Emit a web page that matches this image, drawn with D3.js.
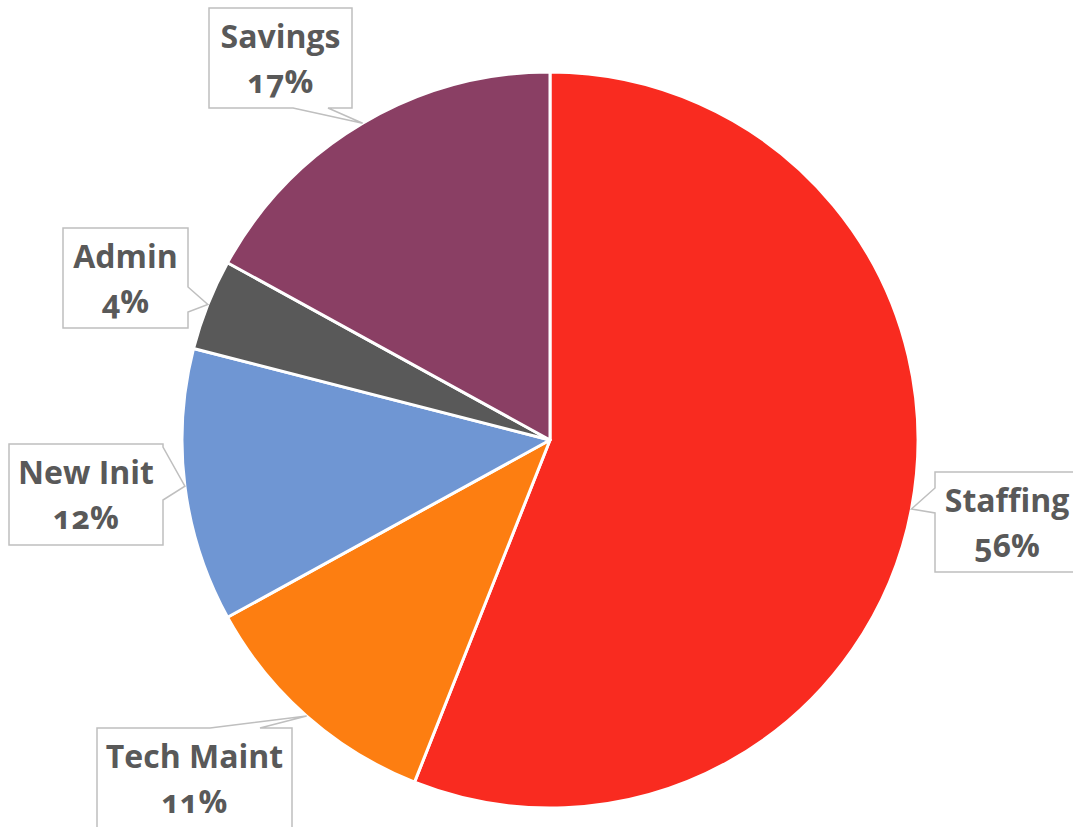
<!DOCTYPE html>
<html>
<head>
<meta charset="utf-8">
<script src="https://cdn.jsdelivr.net/npm/d3@7"></script>
<style>
  html, body { margin: 0; padding: 0; background: #fff; }
  svg { display: block; }
  .lbl { font-family: "Open Sans", Lato, sans-serif; font-weight: 700; fill: #595959; font-variant-numeric: oldstyle-nums; font-variant-ligatures: none; }
</style>
</head>
<body>
<svg id="chart" width="1073" height="827"></svg>
<script>
// Budget share by category, in percent
const categories = ["Staffing", "Tech Maint", "New Init", "Admin", "Savings"];
const shares = [56, 11, 12, 4, 17];
const colors = ["#F92B20", "#FD7E11", "#6F96D3", "#595959", "#8A3F64"];

// Callout boxes: position, size and which edge carries the pointer
const callouts = {
  "Staffing":   { x: 935, y: 472, w: 150, h: 100, side: "left",   a: 16, b: 41 },
  "Tech Maint": { x: 97,  y: 728, w: 195, h: 104, side: "top",    a: 113, b: 163 },
  "New Init":   { x: 9,   y: 444, w: 154, h: 101, side: "right",  a: 3,  b: 56 },
  "Admin":      { x: 63,  y: 228, w: 125, h: 100, side: "right",  a: 59, b: 84 },
  "Savings":    { x: 209, y: 8,   w: 143, h: 100, side: "bottom", a: 84, b: 119 }
};

const svg = d3.select("#chart");
const cx = 550, cy = 440, radius = 368;

const pie = d3.pie().sort(null).value(d => d.value);
const arcs = pie(categories.map((c, i) => ({ name: c, value: shares[i], color: colors[i] })));
const arc = d3.arc().innerRadius(0).outerRadius(radius);

const g = svg.append("g").attr("transform", `translate(${cx},${cy})`);
g.selectAll("path.slice")
  .data(arcs)
  .join("path")
  .attr("class", "slice")
  .attr("d", arc)
  .attr("fill", d => d.data.color)
  .attr("stroke", "#fff")
  .attr("stroke-width", 3)
  .attr("stroke-linejoin", "round");

// Callout shape: rectangle with a wedge pointing at the slice's outer edge
function calloutPath(c, tip) {
  const x0 = c.x, y0 = c.y, x1 = c.x + c.w, y1 = c.y + c.h;
  let pts;
  if (c.side === "bottom") {
    pts = [[x0, y0], [x1, y0], [x1, y1], [x0 + c.b, y1], tip, [x0 + c.a, y1], [x0, y1]];
  } else if (c.side === "top") {
    pts = [[x0, y0], [x0 + c.a, y0], tip, [x0 + c.b, y0], [x1, y0], [x1, y1], [x0, y1]];
  } else if (c.side === "left") {
    pts = [[x0, y0], [x1, y0], [x1, y1], [x0, y1], [x0, y0 + c.b], tip, [x0, y0 + c.a]];
  } else {
    pts = [[x0, y0], [x1, y0], [x1, y0 + c.a], tip, [x1, y0 + c.b], [x1, y1], [x0, y1]];
  }
  return "M" + pts.map(p => p.join(",")).join("L") + "Z";
}

const labels = svg.append("g");
arcs.forEach(d => {
  const c = callouts[d.data.name];
  const mid = (d.startAngle + d.endAngle) / 2;
  const tip = [cx + radius * Math.sin(mid), cy - radius * Math.cos(mid)];
  labels.append("path")
    .attr("d", calloutPath(c, tip))
    .attr("fill", "#fff")
    .attr("stroke", "#BFBFBF")
    .attr("stroke-width", 1.5);
  const tx = c.x + (d.data.name === "Staffing" ? 72 : c.w / 2);
  const t = labels.append("text")
    .attr("class", "lbl")
    .attr("text-anchor", "middle")
    .attr("font-size", 32);
  t.append("tspan").attr("x", tx).attr("y", c.y + 40).text(d.data.name);
  t.append("tspan").attr("x", tx).attr("y", c.y + 85).text(d3.format(".0f")(d.data.value) + "%");
});
</script>
</body>
</html>
